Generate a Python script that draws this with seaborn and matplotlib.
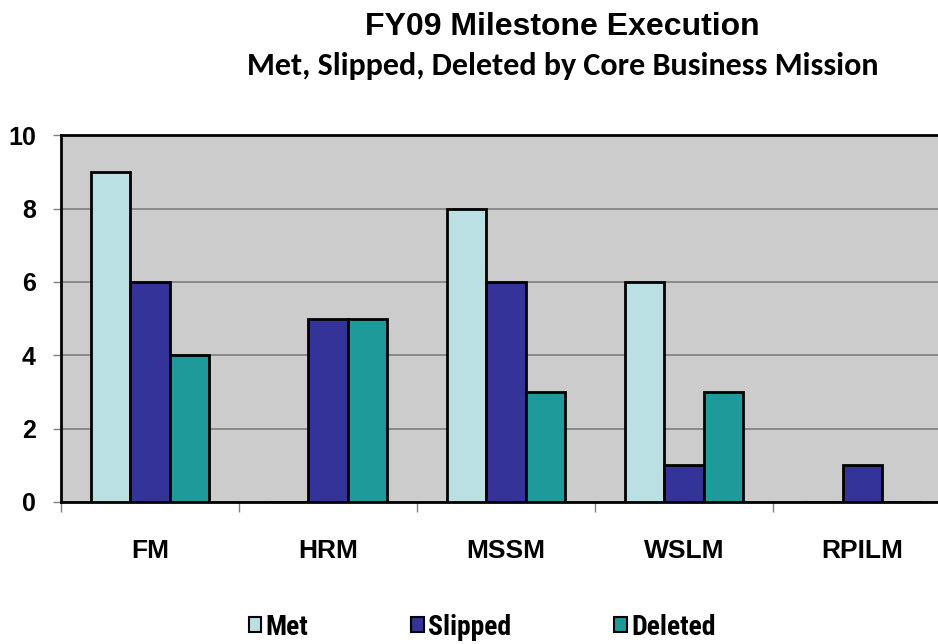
import matplotlib
matplotlib.use("Agg")
import matplotlib.pyplot as plt
import seaborn as sns
import pandas as pd
from matplotlib.patches import Patch
from matplotlib.font_manager import FontProperties

missions = ["FM", "HRM", "MSSM", "WSLM", "RPILM"]
met = [9, 0, 8, 6, 0]
slipped = [6, 5, 6, 1, 1]
deleted = [4, 5, 3, 3, 0]
series = ["Met", "Slipped", "Deleted"]
colors = ["#BBE0E3", "#333399", "#1E9A9A"]
yticks = [0, 2, 4, 6, 8, 10]

df = pd.DataFrame({
    "Mission": missions * 3,
    "Status": ["Met"] * 5 + ["Slipped"] * 5 + ["Deleted"] * 5,
    "Count": met + slipped + deleted,
})

sns.set_theme(style="white")
plt.rcParams["font.family"] = ["Liberation Sans", "DejaVu Sans"]
plt.rcParams["text.color"] = "black"
plt.rcParams["xtick.color"] = "black"
plt.rcParams["ytick.color"] = "black"

fig = plt.figure(figsize=(9.38, 6.44), dpi=100)
ax = fig.add_axes([0.065, 0.2205, 0.949, 0.5695])
ax.set_facecolor("#CCCCCC")

sns.barplot(data=df, x="Mission", y="Count", hue="Status", hue_order=series,
            palette=colors, width=0.66, edgecolor="black", linewidth=2,
            saturation=1, ax=ax, legend=False, zorder=3)

ax.set_ylim(0, 10)
ax.set_xlim(-0.5, 4.5)
ax.set_yticks(yticks)
ax.set_yticklabels([str(t) for t in yticks], fontsize=18, fontweight="bold")
ax.set_xticklabels(missions, fontsize=19, fontweight="bold")
ax.yaxis.grid(True, color="#808080", linewidth=1.2, zorder=0)
ax.set_axisbelow(True)
ax.set_xlabel("")
ax.set_ylabel("")
for side in ["left", "bottom", "top"]:
    ax.spines[side].set_visible(True)
    ax.spines[side].set_color("black")
    ax.spines[side].set_linewidth(2)
ax.spines["right"].set_visible(False)

ax.tick_params(axis="y", which="major", left=True, length=6, width=1,
               color="#808080", labelcolor="black", pad=12)
ax.set_xticks([-0.5, 0.5, 1.5, 2.5, 3.5], minor=True)
ax.tick_params(axis="x", which="minor", bottom=True, length=7, width=1, color="#808080")
ax.tick_params(axis="x", which="major", bottom=False, labelcolor="black", pad=21)

fig.text(0.6, 0.958, "FY09 Milestone Execution", ha="center", va="center",
         fontsize=23, fontweight="bold", family=["Liberation Sans"])
fig.text(0.6, 0.898, "Met, Slipped, Deleted by Core Business Mission", ha="center",
         va="center", fontsize=23, fontweight="bold", family=["Carlito", "DejaVu Sans"])

legend_font = FontProperties(family=["Roboto Condensed", "Liberation Sans"],
                             weight="bold", size=20)
handles = [Patch(facecolor=c, edgecolor="black", linewidth=1.5, label=s)
           for s, c in zip(series, colors)]
fig.legend(handles=handles, loc="center", bbox_to_anchor=(0.514, 0.026), ncol=3,
           frameon=False, handlelength=0.45, handleheight=0.45, handletextpad=0.16,
           columnspacing=3.7, prop=legend_font, borderpad=0.2)

fig.savefig("out.png", dpi=100)
